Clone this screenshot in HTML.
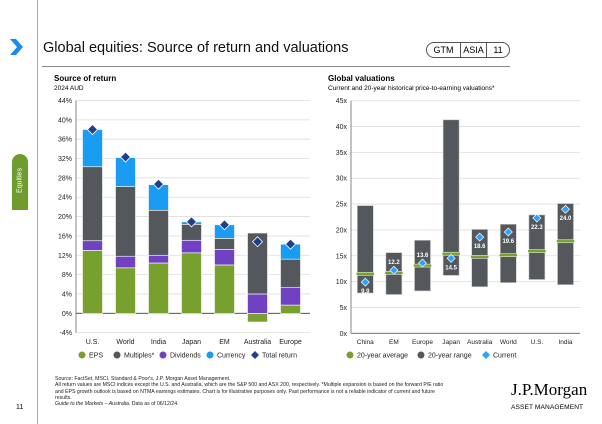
<!DOCTYPE html>
<html><head><meta charset="utf-8"><style>
body{margin:0;width:602px;height:424px;background:#fff;font-family:"Liberation Sans",sans-serif;overflow:hidden;position:relative}
.a{position:absolute;white-space:nowrap}
</style></head><body>
<div class="a" style="left:37px;top:0;width:1px;height:424px;background:#aaa"></div>
<svg class="a" style="left:8px;top:37px" width="16" height="20"><path d="M2 2 L8 2 L15 10 L8 18 L2 18 L9 10 Z" fill="#1a8cf0"/></svg>
<div class="a" style="left:12px;top:154px;width:16px;height:56px;background:#6e9c2f;border-radius:8px 8px 0 0"></div>
<div class="a" style="left:-3px;top:177px;width:46px;text-align:center;color:#fff;font-size:7px;transform:rotate(-90deg)">Equities</div>
<div class="a" style="left:43px;top:40px;font-size:14.5px;color:#111">Global equities: Source of return and valuations</div>
<div class="a" style="left:426px;top:42px;width:82px;height:14px;border:1px solid #555;border-radius:8px;font-size:9px;display:flex">
<span style="width:33px;text-align:center;line-height:14px">GTM</span><span style="width:25px;border-left:1px solid #555;border-right:1px solid #555;text-align:center;line-height:14px">ASIA</span><span style="flex:1;text-align:center;line-height:14px">11</span></div>
<div class="a" style="left:42px;top:66px;width:468px;height:1px;background:#888"></div>

<div class="a" style="left:54px;top:74px;font-size:8px;font-weight:bold">Source of return</div>
<div class="a" style="left:54px;top:85px;font-size:6.5px">2024 AUD</div>
<div class="a" style="left:328px;top:74px;font-size:8px;font-weight:bold">Global valuations</div>
<div class="a" style="left:328px;top:85px;font-size:6.5px">Current and 20-year historical price-to-earning valuations*</div>

<svg class="a" id="c1" style="left:0;top:0" width="602" height="424" font-family="Liberation Sans, sans-serif"></svg>

<div class="a" style="left:55px;top:376px;font-size:5.2px;line-height:6.3px;color:#222">Source: FactSet, MSCI, Standard &amp; Poor's, J.P. Morgan Asset Management.<br>All return values are MSCI indices except the U.S. and Australia, which are the S&amp;P 500 and ASX 200, respectively. *Multiple expansion is based on the forward P/E ratio<br>and EPS growth outlook is based on NTMA earnings estimates. Chart is for illustrative purposes only. Past performance is not a reliable indicator of current and future<br>results.<br><i>Guide to the Markets – Australia.</i> Data as of 06/12/24.</div>
<div class="a" style="left:16px;top:404px;font-size:7px">11</div>
<div class="a" style="left:511px;top:380px;font-family:'Liberation Serif',serif;font-size:17px">J.P.Morgan</div>
<div class="a" style="left:511px;top:404px;font-size:6.6px;letter-spacing:0.1px">ASSET MANAGEMENT</div>

<script>
const cats1=["U.S.","World","India","Japan","EM","Australia","Europe"];
const eps=[13,9.4,10.4,12.5,10,-1.8,1.7];
const divs=[2,2.4,1.6,2.6,3.2,4,3.6];
const mults=[15.3,14.4,9.3,3.3,2.3,12.6,5.9];
const curr=[7.7,6,5.3,0.5,2.8,0,3.1];
const total=[38,32.3,26.7,18.9,18.3,14.8,14.3];
const ticks1=[-4,0,4,8,12,16,20,24,28,32,36,40,44];

const cats2=["China","EM","Europe","Japan","Australia","World","U.S.","India"];
const lo=[7.8,7.5,8.2,11.2,9,9.8,10.4,9.4];
const hi=[24.7,15.6,18,41.3,20.1,21.1,22.9,25.1];
const avg=[11.5,11.7,13.1,15.4,14.8,15.1,15.9,17.8];
const cur=[9.9,12.2,13.6,14.5,18.6,19.6,22.3,24.0];
const labAbove=[false,true,true,false,false,false,false,false];
const ticks2=[0,5,10,15,20,25,30,35,40,45];

const svg=document.getElementById('c1');const NS='http://www.w3.org/2000/svg';
function el(t,a,name,txt){const e=document.createElementNS(NS,t);for(const k in a)e.setAttribute(k,a[k]);


if(txt!==undefined)e.textContent=txt;svg.appendChild(e);return e;}
const y1=v=>313.3-v*(212.8/44);
const X0=76,CW=33,x1=i=>X0+CW*(i+0.5);
ticks1.forEach(t=>{el('line',{x1:X0,x2:310,y1:y1(t),y2:y1(t),stroke:'#ddd','stroke-width':0.8},'y-gridline');
el('text',{x:X0-4,y:y1(t)+2.5,'font-size':7,'text-anchor':'end',fill:'#222'},'y-tick-label',t+'%');});
el('line',{x1:X0,x2:X0,y1:y1(44),y2:y1(-4),stroke:'#666','stroke-width':0.8},'y-axis');
el('line',{x1:X0,x2:310,y1:y1(0),y2:y1(0),stroke:'#444','stroke-width':0.8},'x-axis');
const BW=20;
function seg(i,a,b,c,name){const t=Math.min(y1(a),y1(b)),h=Math.abs(y1(a)-y1(b));
el('rect',{x:x1(i)-BW/2,y:t,width:BW,height:h,fill:c,stroke:'#fff','stroke-width':0.6},name);}
cats1.forEach((c,i)=>{
 seg(i,0,eps[i],'#77a02f','bar-eps');
 const b=Math.max(eps[i],0);
 seg(i,b,b+divs[i],'#7042c2','bar-dividends');
 seg(i,b+divs[i],b+divs[i]+mults[i],'#54575b','bar-multiples');
 if(curr[i]>0)seg(i,b+divs[i]+mults[i],b+divs[i]+mults[i]+curr[i],'#1a9cf2','bar-currency');
 const ty=y1(total[i]);
 el('path',{d:`M${x1(i)} ${ty-5} L${x1(i)+5} ${ty} L${x1(i)} ${ty+5} L${x1(i)-5} ${ty} Z`,fill:'#1f3e8c',stroke:'#fff','stroke-width':0.8},'total-return-marker');
 el('text',{x:x1(i),y:344,'font-size':7,'text-anchor':'middle',fill:'#222'},'x-tick-label',c);
});
[['EPS','#77a02f',82,'c'],['Multiples*','#54575b',117,'c'],['Dividends','#7042c2',163,'c'],['Currency','#1a9cf2',210,'c'],['Total return','#1f3e8c',255,'d']].forEach(l=>{
 if(l[3]==='c')el('circle',{cx:l[2],cy:355,r:3.5,fill:l[1]},'legend-marker');
 else el('path',{d:`M${l[2]} 351 L${l[2]+4} 355 L${l[2]} 359 L${l[2]-4} 355 Z`,fill:l[1]},'legend-marker');
 el('text',{x:l[2]+7,y:357.5,'font-size':7,fill:'#222'},'legend-entry',l[0]);
});
const y2=v=>333.3-v*(232.6/45);
const X2=351,CW2=28.6,x2=i=>X2+CW2*(i+0.5);
ticks2.forEach(t=>{el('line',{x1:X2,x2:580,y1:y2(t),y2:y2(t),stroke:'#ddd','stroke-width':0.8},'y-gridline');
el('text',{x:X2-4,y:y2(t)+2.5,'font-size':7,'text-anchor':'end',fill:'#222'},'y-tick-label',t+'x');});
el('line',{x1:X2,x2:X2,y1:y2(45),y2:y2(0),stroke:'#666','stroke-width':0.8},'y-axis');
el('line',{x1:X2,x2:580,y1:y2(0),y2:y2(0),stroke:'#666','stroke-width':0.8},'x-axis');
cats2.forEach((c,i)=>{
 const cx=x2(i);
 el('rect',{x:cx-8,y:y2(hi[i]),width:16,height:y2(lo[i])-y2(hi[i]),fill:'#54575b',stroke:'#ccc','stroke-width':0.6},'range-bar');
 el('rect',{x:cx-9,y:y2(avg[i])-1.5,width:18,height:3,fill:'#77a02f',stroke:'#fff','stroke-width':0.5},'average-marker');
 const cy=y2(cur[i]);
 el('path',{d:`M${cx} ${cy-4} L${cx+4} ${cy} L${cx} ${cy+4} L${cx-4} ${cy} Z`,fill:'#2aa2ff',stroke:'#fff','stroke-width':0.7},'current-marker');
 el('text',{x:cx,y:labAbove[i]?cy-6:cy+11,'font-size':6,'font-weight':'bold','text-anchor':'middle',fill:'#fff'},'current-value-label',cur[i].toFixed(1));
 el('text',{x:cx,y:344,'font-size':6.5,'text-anchor':'middle',fill:'#222'},'x-tick-label',c);
});
[['20-year average','#77a02f',350,'c'],['20-year range','#54575b',421,'c'],['Current','#2aa2ff',486,'d']].forEach(l=>{
 if(l[3]==='c')el('circle',{cx:l[2],cy:355,r:3.5,fill:l[1]},'legend-marker');
 else el('path',{d:`M${l[2]} 351 L${l[2]+4} 355 L${l[2]} 359 L${l[2]-4} 355 Z`,fill:l[1]},'legend-marker');
 el('text',{x:l[2]+7,y:357.5,'font-size':7,fill:'#222'},'legend-entry',l[0]);
});
</script>
</body></html>
